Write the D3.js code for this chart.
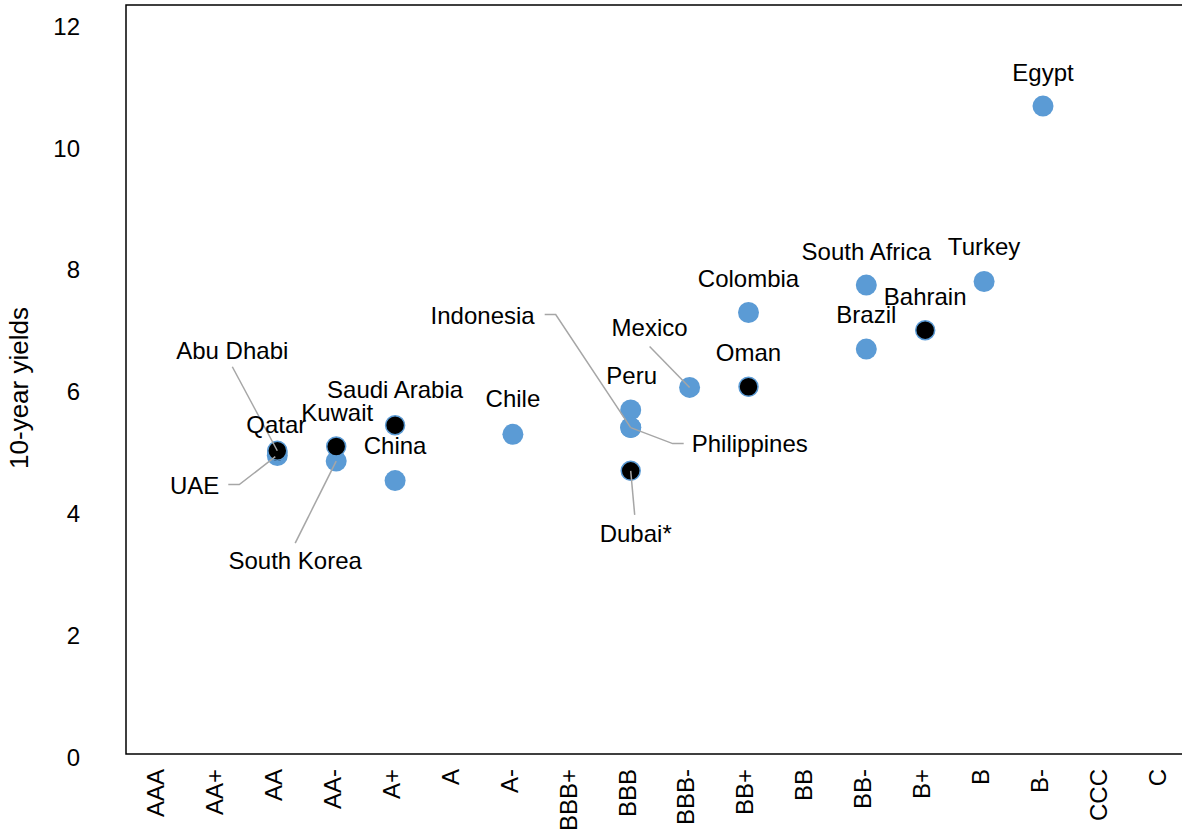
<!DOCTYPE html>
<html lang="en">
<head>
	<meta charset="UTF-8">
	<title>10-year yields by rating</title>
	<script src="https://cdn.jsdelivr.net/npm/d3@7"></script>

	<style type="text/css">
		body { margin: 0; background: #fff; }
		text { font-family: "Liberation Sans", Arial, sans-serif; fill: #000; }
		.lbl, .tick text { font-size: 24px; }
		.title { font-size: 26px; }
		.leader { fill: none; stroke: #a6a6a6; stroke-width: 1.5; }
		.frame { fill: none; stroke: #000; stroke-width: 1.5; }
	</style>
</head>
<body>

<script type="text/javascript">
	// data
	var ratings = ['AAA', 'AA+', 'AA', 'AA-', 'A+', 'A', 'A-', 'BBB+', 'BBB', 'BBB-',
		'BB+', 'BB', 'BB-', 'B+', 'B', 'B-', 'CCC', 'C'];
	var countries = ['Egypt', 'Turkey', 'South Africa', 'Brazil', 'Colombia', 'Mexico', 'Peru',
		'Philippines', 'Indonesia', 'Chile', 'China', 'South Korea', 'UAE',
		'Bahrain', 'Oman', 'Dubai*', 'Saudi Arabia', 'Kuwait', 'Qatar', 'Abu Dhabi'];
	var countryRating = ['B-', 'B', 'BB-', 'BB-', 'BB+', 'BBB-', 'BBB',
		'BBB', 'BBB', 'A-', 'A+', 'AA-', 'AA',
		'B+', 'BB+', 'BBB', 'A+', 'AA-', 'AA', 'AA'];
	var yields = [10.64, 7.76, 7.70, 6.65, 7.25, 6.02, 5.65,
		5.36, 5.36, 5.25, 4.49, 4.81, 4.90,
		6.96, 6.03, 4.65, 5.40, 5.05, 4.96, 4.98];
	var gulf = [0, 0, 0, 0, 0, 0, 0,
		0, 0, 0, 0, 0, 0,
		1, 1, 1, 1, 1, 1, 1]; // black markers
	var yTicks = [0, 2, 4, 6, 8, 10, 12];

	// label placement, px offsets from the marker: [anchor, dx, dy, leader points]
	var labelPos = {
		'Egypt': ['middle', 0, -25],
		'Turkey': ['middle', 0, -26],
		'Bahrain': ['middle', 0, -25],
		'South Africa': ['middle', 0, -25],
		'Brazil': ['middle', 0, -26],
		'Colombia': ['middle', 0, -26],
		'Oman': ['middle', 0, -26],
		'Mexico': ['middle', -40, -51, [[-40, -41], [0, 0]]],
		'Peru': ['middle', 1, -26],
		'Philippines': ['start', 61, 24, [[53, 16], [42, 16], [0, 0]]],
		'Indonesia': ['end', -96, -104, [[-86, -113], [-75, -113], [0, 0]]],
		'Dubai*': ['middle', 5, 71, [[4, 44], [0, 0]]],
		'Chile': ['middle', 0, -27],
		'Saudi Arabia': ['middle', 0, -27],
		'China': ['middle', 0, -27],
		'Kuwait': ['middle', 1, -25],
		'Qatar': ['middle', -1, -19],
		'Abu Dhabi': ['middle', -45, -92, [[-45, -84], [0, 0]]],
		'UAE': ['end', -58, 38, [[-49, 29], [-38, 29], [-2, 1]]],
		'South Korea': ['middle', -41, 108, [[-41, 82], [0, 0]]]
	};

	window.onload = function () {

		var data = countries.map(function (c, i) {
			return {name: c, rating: countryRating[i], y: yields[i], gulf: gulf[i]};
		});

		var W = 1182, H = 831;
		var margin = {top: 5, left: 126, bottom: 754};

		var svg = d3.select('body').append('svg')
			.attr('width', W)
			.attr('height', H);

		var x = d3.scalePoint()
			.domain(ratings)
			.range([159.5, 1160.8]);

		var y = d3.scaleLinear()
			.domain([0, 12.3])
			.range([margin.bottom, margin.top]);

		// y axis
		var ya = svg.append('g')
			.attr('transform', 'translate(' + margin.left + ',0)')
			.call(d3.axisLeft(y).tickValues(yTicks).tickSize(0).tickPadding(46));
		ya.select('.domain').remove();
		ya.selectAll('text').attr('dy', '0.46em');

		// x axis
		var xa = svg.append('g')
			.attr('transform', 'translate(0,' + margin.bottom + ')')
			.call(d3.axisBottom(x).tickSize(0));
		xa.select('.domain').remove();
		xa.selectAll('text')
			.attr('transform', 'rotate(-90)')
			.attr('x', -15)
			.attr('y', 0)
			.attr('dy', '0.18em')
			.style('text-anchor', 'end');
		svg.selectAll('g').attr('font-family', null).attr('font-size', null);

		// frame (top, left, bottom)
		svg.append('path')
			.attr('class', 'frame')
			.attr('d', 'M' + (W + 5) + ',' + margin.top + 'H' + margin.left + 'V' + margin.bottom + 'H' + (W + 5));

		svg.append('text')
			.attr('class', 'title')
			.attr('transform', 'translate(28,388) rotate(-90)')
			.style('text-anchor', 'middle')
			.text('10-year yields');

		// markers: blue first, black on top
		svg.selectAll('.dot')
			.data(data.filter(function (d) { return !d.gulf; }))
			.enter().append('circle')
			.attr('class', 'dot')
			.attr('r', 10.5)
			.attr('cx', function (d) { return x(d.rating); })
			.attr('cy', function (d) { return y(d.y); })
			.style('fill', '#5b9bd5');

		svg.selectAll('.gcc')
			.data(data.filter(function (d) { return d.gulf; }))
			.enter().append('circle')
			.attr('class', 'gcc')
			.attr('r', 9.5)
			.attr('cx', function (d) { return x(d.rating); })
			.attr('cy', function (d) { return y(d.y); })
			.style('fill', '#000')
			.style('stroke', '#5b9bd5')
			.style('stroke-width', 1.5);

		// leaders
		var line = d3.line();
		data.forEach(function (d) {
			var p = labelPos[d.name];
			var cx = x(d.rating), cy = y(d.y);
			if (p[3]) {
				svg.append('path')
					.attr('class', 'leader')
					.attr('d', line(p[3].map(function (q) { return [cx + q[0], cy + q[1]]; })));
			}
		});

		// labels
		svg.selectAll('.lbl')
			.data(data)
			.enter().append('text')
			.attr('class', 'lbl')
			.attr('x', function (d) { return x(d.rating) + labelPos[d.name][1]; })
			.attr('y', function (d) { return y(d.y) + labelPos[d.name][2]; })
			.style('text-anchor', function (d) { return labelPos[d.name][0]; })
			.text(function (d) { return d.name; });
	};
</script>

</body>
</html>
